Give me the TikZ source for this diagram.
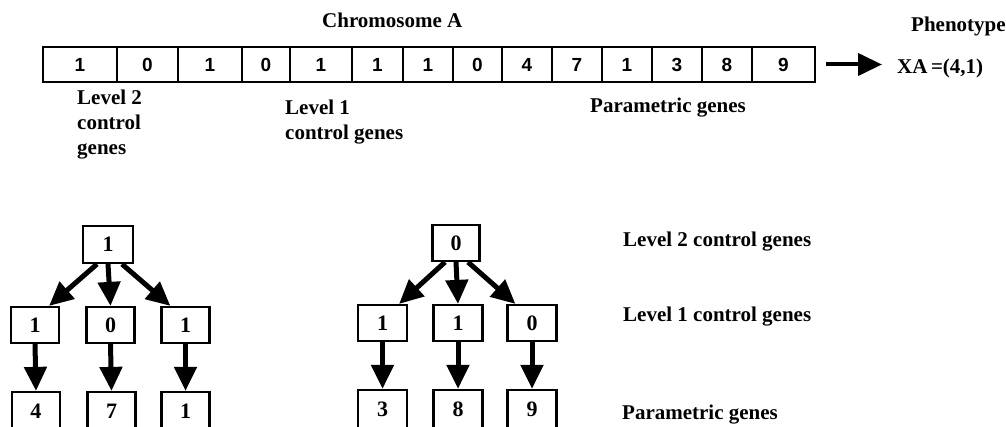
\documentclass[tikz,border=0pt]{standalone}
\usepackage{fontspec}
\setmainfont{Liberation Serif}
\newfontfamily\digitfont{Liberation Sans}
\usetikzlibrary{arrows.meta,calc}
\begin{document}
\begin{tikzpicture}[x=1pt,y=-1pt,
  cell/.style={draw,line width=1.8pt,minimum height=35pt,inner sep=0pt,font=\digitfont\bfseries\fontsize{19}{19}\selectfont},
  gbox/.style={draw,line width=2.2pt,minimum width=48pt,minimum height=36pt,inner sep=0pt,font=\bfseries\fontsize{22}{22}\selectfont},
  lowbox/.style={gbox,minimum height=38pt},
  lbl/.style={inner sep=0pt,font=\bfseries\fontsize{21}{25}\selectfont,align=left},
  bigarr/.style={line width=5pt,-{Triangle[width=22pt,length=24pt]}},
]
\useasboundingbox (0,0) rectangle (1006,427);
\clip (0,0) rectangle (1006,427);

% chromosome strip
\foreach \a/\b/\d [count=\i] in {43/117/1,117/178/0,178/242/1,242/290/0,290/352/1,352/403/1,403/453/1,453/502/0,502/552/4,552/602/7,602/652/1,652/702/3,702/752/8,752/815/9}
  \node[cell,minimum width={(\b-\a)*1pt}] (c\i) at ({(\a+\b)/2},64.5) {\d};

\node[lbl,anchor=base west] (chr) at (322,28) {Chromosome A};
\node[lbl,anchor=base west] (ph) at (911,32) {Phenotype};
\node[lbl,anchor=base west] (xa) at (897,74) {XA\,=(4,1)};
\draw[line width=4pt,-{Triangle[width=22pt,length=24pt]},shorten <=10pt,shorten >=15pt] (c14.east) -- (c14.east -| xa.west);

\node[lbl,anchor=north west] (l2) at (77,90) {Level 2\\control\\genes};
\node[lbl,anchor=north west] (l1) at (285,100) {Level 1\\control genes};
\node[lbl,anchor=north west] (pg) at (590,98) {Parametric genes};

% tree 1
\node[gbox,minimum width=50pt,minimum height=37pt] (t1) at (108,244.5) {1};
\node[gbox] (a1) at (35,325) {1};
\node[gbox] (a2) at (110.5,325) {0};
\node[gbox] (a3) at (185.5,325) {1};
\node[lowbox] (b1) at (36,411) {4};
\node[lowbox] (b2) at (111.5,411) {7};
\node[lowbox] (b3) at (185.5,411) {1};
\draw[bigarr] ([xshift=-11pt]t1.south) -- ([xshift=-11pt]a1.north east);
\draw[bigarr] (t1.south) -- (a2.north);
\draw[bigarr] ([xshift=14pt]t1.south) -- ([xshift=10pt]a3.north west);
\draw[bigarr] (a1.south) -- (b1.north);
\draw[bigarr] (a2.south) -- (b2.north);
\draw[bigarr] (a3.south) -- (b3.north);

% tree 2
\node[gbox,minimum width=47pt] (u) at (456,243) {0};
\node[gbox,minimum width=49pt] (v1) at (382.5,323) {1};
\node[gbox,minimum width=49pt] (v2) at (458,323) {1};
\node[gbox,minimum width=49pt] (v3) at (532,323) {0};
\node[lowbox,minimum width=49pt] (w1) at (382.5,409) {3};
\node[lowbox,minimum width=49pt] (w2) at (458,409) {8};
\node[lowbox,minimum width=49pt] (w3) at (532,409) {9};
\draw[bigarr] ([xshift=-11pt]u.south) -- ([xshift=-9pt]v1.north east);
\draw[bigarr] (u.south) -- (v2.north);
\draw[bigarr] ([xshift=12pt]u.south) -- ([xshift=9pt]v3.north west);
\draw[bigarr] (v1.south) -- (w1.north);
\draw[bigarr] (v2.south) -- (w2.north);
\draw[bigarr] (v3.south) -- (w3.north);

% right labels
\node[lbl,anchor=base west] (r2) at (623,247) {Level 2 control genes};
\node[lbl,anchor=base west] (r1) at (623,322) {Level 1 control genes};
\node[lbl,anchor=base west] (r0) at (622,419) {Parametric genes};
\end{tikzpicture}
\end{document}
